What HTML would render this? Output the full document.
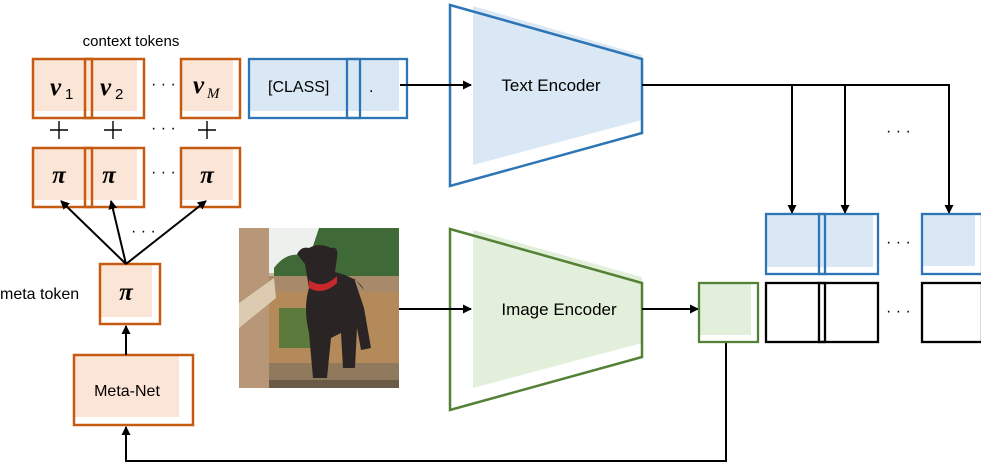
<!DOCTYPE html>
<html><head><meta charset="utf-8"><style>
html,body{margin:0;padding:0;background:#fff;}
svg{display:block;}
text{font-family:"Liberation Sans","DejaVu Sans",sans-serif;fill:#000;}
.m{font-family:"Liberation Serif","DejaVu Serif",serif;font-weight:bold;font-style:italic;}
</style></head><body>
<svg width="981" height="463" viewBox="0 0 981 463" xmlns="http://www.w3.org/2000/svg">
<defs>
<marker id="a" markerWidth="9" markerHeight="9" refX="8" refY="4.5" orient="auto" markerUnits="userSpaceOnUse"><path d="M0,0 L9,4.5 L0,9 z" fill="#000"/></marker>
</defs>
<text x="131" y="46" font-size="15" text-anchor="middle">context tokens</text>
<g stroke="#c55a11" stroke-width="2.5">
<rect x="33" y="59" width="52" height="52" fill="#fbe5d6" stroke="none"/>
<rect x="85" y="59" width="52" height="52" fill="#fbe5d6" stroke="none"/>
<rect x="181" y="59" width="52" height="52" fill="#fbe5d6" stroke="none"/>
<rect x="33" y="59" width="59" height="59" fill="none"/>
<rect x="85" y="59" width="59" height="59" fill="none"/>
<rect x="181" y="59" width="59" height="59" fill="none"/>
<rect x="33" y="148" width="52" height="52" fill="#fbe5d6" stroke="none"/>
<rect x="85" y="148" width="52" height="52" fill="#fbe5d6" stroke="none"/>
<rect x="181" y="148" width="52" height="52" fill="#fbe5d6" stroke="none"/>
<rect x="33" y="148" width="59" height="59" fill="none"/>
<rect x="85" y="148" width="59" height="59" fill="none"/>
<rect x="181" y="148" width="59" height="59" fill="none"/>
<rect x="100" y="264" width="52" height="53" fill="#fbe5d6" stroke="none"/>
<rect x="100" y="264" width="60" height="60" fill="none"/>
<rect x="74" y="355" width="105" height="62" fill="#fbe5d6" stroke="none"/>
<rect x="74" y="355" width="119" height="70" fill="none"/>
</g>
<text class="m" x="50" y="95" font-size="25">v</text><text x="65" y="99" font-size="15" font-family="Liberation Serif">1</text>
<text class="m" x="100" y="95" font-size="25">v</text><text x="115" y="99" font-size="15" font-family="Liberation Serif">2</text>
<text class="m" x="193" y="93" font-size="25">v</text><text class="m" x="207" y="98" font-size="15" style="font-weight:normal">M</text>
<text x="151" y="89" font-size="16">· · ·</text>
<g stroke="#000" stroke-width="1.4">
<line x1="50" y1="130" x2="68" y2="130"/><line x1="59" y1="121" x2="59" y2="139"/>
<line x1="104" y1="130" x2="122" y2="130"/><line x1="113" y1="121" x2="113" y2="139"/>
<line x1="198" y1="130" x2="216" y2="130"/><line x1="207" y1="121" x2="207" y2="139"/>
</g>
<text x="151" y="133" font-size="16">· · ·</text>
<text class="m" x="59" y="183" font-size="25" text-anchor="middle">π</text>
<text class="m" x="109" y="183" font-size="25" text-anchor="middle">π</text>
<text class="m" x="207" y="183" font-size="25" text-anchor="middle">π</text>
<text x="151" y="177" font-size="16">· · ·</text>
<text class="m" x="126" y="300" font-size="25" text-anchor="middle">π</text>
<text x="0" y="299" font-size="16">meta token</text>
<text x="127" y="396" font-size="16" text-anchor="middle">Meta-Net</text>
<g stroke="#000" stroke-width="2" fill="none">
<line x1="126" y1="264" x2="61" y2="201" marker-end="url(#a)"/>
<line x1="126" y1="264" x2="111" y2="201" marker-end="url(#a)"/>
<line x1="126" y1="264" x2="206" y2="201" marker-end="url(#a)"/>
<line x1="126" y1="355" x2="126" y2="326" marker-end="url(#a)"/>
<polyline points="726,342 726,461 126,461 126,427" marker-end="url(#a)"/>
</g>
<text x="131" y="236" font-size="16">· · ·</text>
<rect x="249" y="59" width="150" height="52" fill="#dae8f5"/>
<g stroke="#2e75b6" stroke-width="2.3" fill="none">
<rect x="249" y="59" width="111" height="59"/>
<rect x="347" y="59" width="60" height="59"/>
</g>
<text x="268" y="92" font-size="16">[CLASS]</text>
<text x="369" y="92" font-size="16">.</text>
<polygon points="473,6 642,55 642,120 473,165" fill="#dae8f5"/>
<polygon points="450,5 642,59 642,133 450,186" fill="none" stroke="#2e75b6" stroke-width="2.5"/>
<text x="551" y="91" font-size="17" text-anchor="middle">Text Encoder</text>
<polygon points="473,230 642,277 642,343 473,388" fill="#e2efda"/>
<polygon points="450,229 642,283 642,357 450,410" fill="none" stroke="#538135" stroke-width="2.5"/>
<text x="559" y="315" font-size="17" text-anchor="middle">Image Encoder</text>
<g stroke="#000" stroke-width="2" fill="none">
<line x1="400" y1="85" x2="471" y2="85" marker-end="url(#a)"/>
<line x1="399" y1="309" x2="471" y2="309" marker-end="url(#a)"/>
<line x1="642" y1="309" x2="698" y2="309" marker-end="url(#a)"/>
<polyline points="642,85 949,85 949,213" marker-end="url(#a)"/>
<line x1="792" y1="85" x2="792" y2="213" marker-end="url(#a)"/>
<line x1="845" y1="85" x2="845" y2="213" marker-end="url(#a)"/>
</g>
<text x="886" y="136" font-size="16">· · ·</text>
<rect x="766" y="214" width="107" height="53" fill="#dae8f5"/>
<rect x="922" y="214" width="53" height="52" fill="#dae8f5"/>
<g stroke="#2e75b6" stroke-width="2.3" fill="none">
<rect x="766" y="214" width="59" height="60"/>
<rect x="819" y="214" width="59" height="60"/>
<rect x="922" y="214" width="60" height="60"/>
</g>
<g stroke="#000" stroke-width="2.3" fill="none">
<rect x="766" y="283" width="59" height="59"/>
<rect x="819" y="283" width="59" height="59"/>
<rect x="922" y="283" width="60" height="59"/>
</g>
<text x="886" y="247" font-size="16">· · ·</text>
<text x="886" y="316" font-size="16">· · ·</text>
<rect x="699" y="283" width="52" height="52" fill="#e2efda"/>
<rect x="699" y="283" width="59" height="59" fill="none" stroke="#538135" stroke-width="2.3"/>
<g transform="translate(239,228)">
<rect width="160" height="160" fill="#c9b8a0"/>
<rect x="25" y="0" width="135" height="45" fill="#eef0ee"/>
<path d="M35,40 Q50,20 70,30 L80,0 L160,0 L160,50 L35,50 z" fill="#3f6a37"/>
<rect x="25" y="60" width="135" height="80" fill="#b48a5a"/>
<rect x="40" y="80" width="35" height="40" fill="#5b7a3c"/>
<rect x="25" y="48" width="135" height="16" fill="#a88a6a"/>
<rect x="0" y="0" width="30" height="160" fill="#b79777"/>
<polygon points="0,75 35,50 37,70 0,100" fill="#dccbb0"/>
<rect x="30" y="135" width="130" height="25" fill="#8f7a5e"/>
<rect x="30" y="152" width="130" height="8" fill="#6a5a46"/>
<path d="M58,26 Q62,18 70,20 Q80,14 92,20 Q100,18 98,30 L96,44 Q120,50 125,62 L115,50 L125,80 L132,120 L122,122 L118,100 L116,140 L104,140 L102,105 L92,110 L88,150 L74,150 L70,105 Q64,80 70,60 L66,36 z" fill="#2a2524"/>
<path d="M70,52 Q84,62 98,48 L98,55 Q84,68 70,60 z" fill="#c8282b"/>
</g>
</svg>
</body></html>
